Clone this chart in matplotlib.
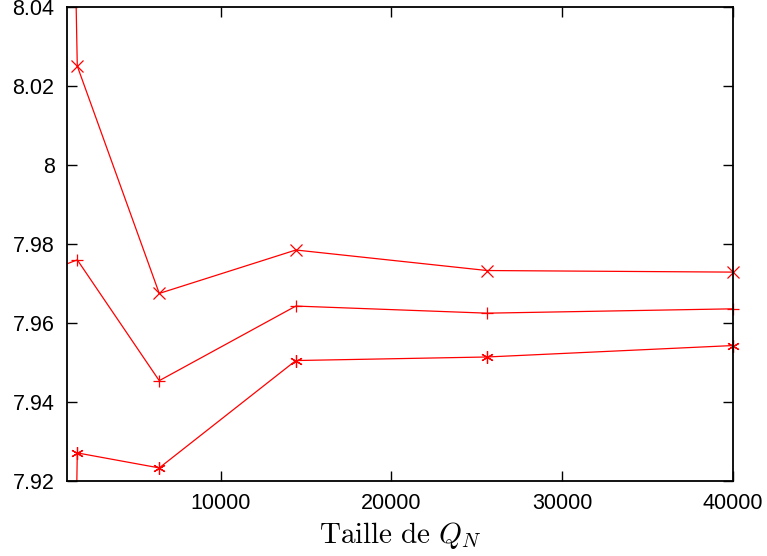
import matplotlib
matplotlib.use("Agg")
import matplotlib.pyplot as plt
from matplotlib.ticker import FuncFormatter

plt.rcParams['font.family'] = ['Liberation Sans', 'DejaVu Sans']
plt.rcParams['mathtext.fontset'] = 'cm'

# taille de Q_N
taille = [400, 1600, 6400, 14400, 25600, 40000]

# three series (marker x, +, *)
serie_x    = [8.30, 8.0251, 7.9675, 7.9785, 7.9733, 7.9729]
serie_plus = [7.974, 7.9760, 7.9454, 7.9643, 7.9625, 7.9636]
serie_star = [7.60, 7.9271, 7.9233, 7.9505, 7.9514, 7.9543]

xticks = [10000, 20000, 30000, 40000]
yticks = [7.92, 7.94, 7.96, 7.98, 8.00, 8.02, 8.04]

color = "#ff0000"
xmin, xmax = 1000, 40000

fig = plt.figure(figsize=(7.67, 5.56), dpi=100)
ax = fig.add_axes([0.0874, 0.135, 0.8683, 0.852])

for serie, mk, ms in [(serie_x, "x", 8), (serie_plus, "+", 9), (serie_star, (6, 2, 0), 9)]:
	# lines are clipped to the frame, points are not (gnuplot style)
	ax.plot(taille, serie, c=color, lw=0.9)
	pts = [(t, v) for t, v in zip(taille, serie) if xmin <= t <= xmax]
	ax.plot([p[0] for p in pts], [p[1] for p in pts], ls="none", c=color,
		marker=mk, ms=ms, mew=0.9, clip_on=False)

ax.set_xlim(xmin, xmax)
ax.set_ylim(7.92, 8.04)
ax.set_xticks(xticks)
ax.set_yticks(yticks)
ax.yaxis.set_major_formatter(FuncFormatter(lambda v, p: "%g" % round(v, 2)))

ax.tick_params(direction="in", top=True, right=True, length=7, width=1, labelsize=15.5, pad=9)
for s in ax.spines.values():
	s.set_linewidth(1.3)

ax.set_xlabel(r"$\mathrm{Taille\ de\ }Q_N$", fontsize=21, labelpad=4)

fig.savefig("out.png", dpi=100)
